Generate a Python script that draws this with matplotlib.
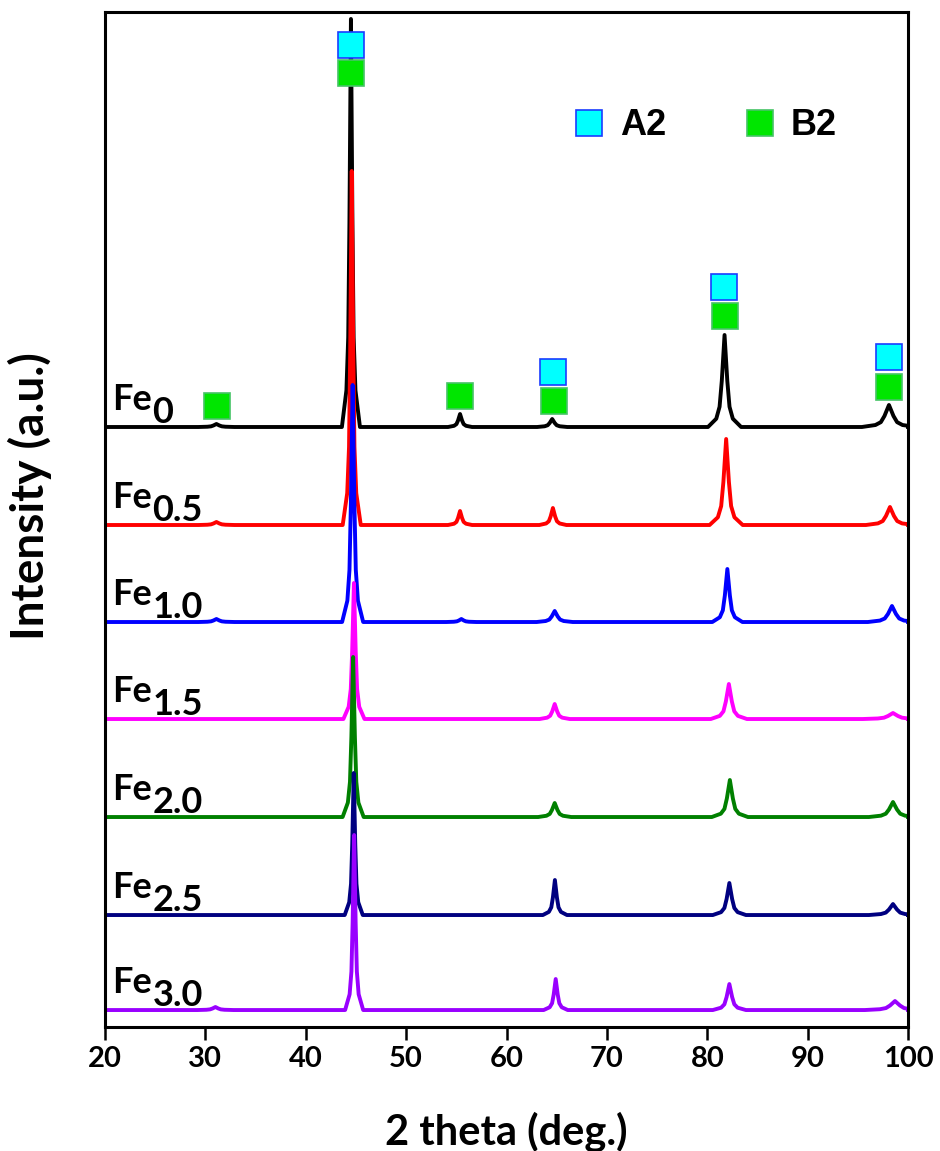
import matplotlib.pyplot as plt
from matplotlib.lines import Line2D

plt.rcParams['font.family'] = ['Lato', 'DejaVu Sans']
plt.rcParams['font.weight'] = 'bold'

# Fe content of each pattern, bottom of stack last
samples = ['0', '0.5', '1.0', '1.5', '2.0', '2.5', '3.0']
colors = ['black', '#ff0000', '#0000ff', '#ff00ff', '#008000', '#000080', '#9900ff']
offsets = [600, 502, 405, 308, 210, 112, 17]

# reflections per pattern: 2theta (deg), height above baseline (a.u.), FWHM (deg)
peak_pos = [
    [31.1, 44.50, 55.37, 64.55, 81.72, 98.10],
    [31.1, 44.58, 55.37, 64.62, 81.88, 98.20],
    [31.1, 44.67, 55.50, 64.80, 82.00, 98.40],
    [44.80, 64.80, 82.15, 98.50],
    [44.72, 64.80, 82.25, 98.50],
    [44.78, 64.82, 82.20, 98.50],
    [31.0, 44.82, 64.90, 82.20, 98.70],
]
peak_height = [
    [3, 408, 13, 8, 92, 22],
    [3, 354, 14, 17, 86, 18],
    [3, 237, 3, 11, 53, 16],
    [136, 15, 35, 6],
    [160, 14, 37, 15],
    [142, 35, 32, 11],
    [3, 175, 31, 26, 9],
]
peak_fwhm = [
    [0.6, 0.30, 0.40, 0.50, 0.55, 0.90],
    [0.6, 0.30, 0.40, 0.45, 0.55, 0.80],
    [0.6, 0.35, 0.50, 0.60, 0.50, 0.80],
    [0.35, 0.50, 0.60, 1.00],
    [0.35, 0.55, 0.60, 0.80],
    [0.30, 0.40, 0.55, 0.80],
    [0.6, 0.30, 0.40, 0.55, 1.00],
]

# shape of one reflection: offset in FWHM units, fraction of peak height
profile_dx = [-3.0, -1.5, -0.9, -0.5, 0.0, 0.5, 0.9, 1.5, 3.0]
profile_frac = [0.0, 0.09, 0.22, 0.5, 1.0, 0.5, 0.22, 0.09, 0.0]

# phase markers (2theta, height on the intensity scale)
a2_pos = [44.51, 64.68, 81.67, 98.10]
a2_level = [982, 655, 740, 670]
b2_pos = [31.16, 44.51, 55.37, 64.73, 81.80, 98.15]
b2_level = [621, 954, 631, 626, 711, 640]


def pattern(pos, height, fwhm):
    tt, yy = [20.0], [0.0]
    for p, h, w in zip(pos, height, fwhm):
        for dx, f in zip(profile_dx, profile_frac):
            tt.append(p + dx * w)
            yy.append(h * f)
    tt.append(100.0)
    yy.append(0.0)
    return tt, yy


fig = plt.figure(figsize=(9.4, 11.51), dpi=100)
ax = fig.add_axes([0.1117, 0.1077, 0.8543, 0.8819])

for i in range(len(samples)):
    tt, yy = pattern(peak_pos[i], peak_height[i], peak_fwhm[i])
    ax.plot(tt, [v + offsets[i] for v in yy], color=colors[i], lw=2.8,
            solid_joinstyle='round')
    fe = ax.text(20.7, offsets[i] + 17, 'Fe', fontsize=26, fontweight='bold',
                 ha='left', va='baseline')
    ax.annotate(samples[i], xy=(1, 0), xycoords=fe, xytext=(0.5, -5),
                textcoords='offset points', fontsize=26, fontweight='bold',
                ha='left', va='baseline')

a2_style = dict(ls='none', marker='s', ms=18.5, mfc='#00ffff', mec='#1a3cff', mew=1.2)
b2_style = dict(ls='none', marker='s', ms=18.5, mfc='#00e600', mec='#45c466', mew=1.2)
ax.plot(a2_pos, a2_level, zorder=5, **a2_style)
ax.plot(b2_pos, b2_level, zorder=5, **b2_style)

ax.legend([Line2D([], [], **a2_style), Line2D([], [], **b2_style)], ['A2', 'B2'],
          ncol=2, frameon=False, loc='center left', bbox_to_anchor=(0.585, 0.888),
          borderaxespad=0, borderpad=0, handlelength=0.8, handletextpad=0.45,
          columnspacing=2.2,
          prop={'family': ['Liberation Sans', 'DejaVu Sans'], 'weight': 'bold', 'size': 26})

ax.set_xlim(20, 100)
ax.set_ylim(0, 1015)
ax.set_xticks(range(20, 101, 10))
ax.set_yticks([])
ax.tick_params(axis='x', direction='out', length=9.5, width=1.8, pad=4, labelsize=21)
for sp in ax.spines.values():
    sp.set_linewidth(2.2)

ax.set_xlabel('2 theta (deg.)', fontsize=30, fontweight='bold')
ax.xaxis.set_label_coords(0.5, -0.083)
ax.xaxis.label.set_va('top')
ax.set_ylabel('Intensity (a.u.)', fontsize=33, fontweight='bold')
ax.yaxis.set_label_coords(-0.066, 0.523)

fig.savefig('out.png', dpi=100, facecolor='white')
